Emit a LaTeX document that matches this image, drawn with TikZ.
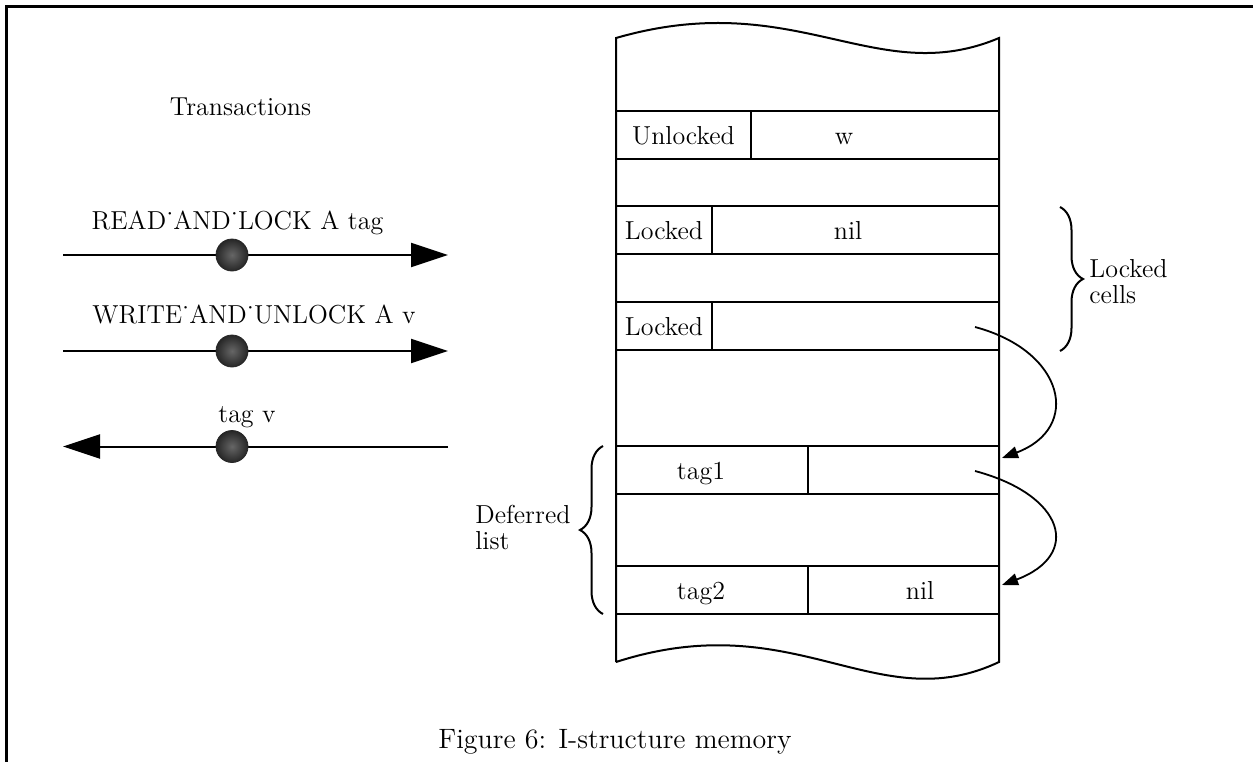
\documentclass[tikz,border=0pt]{standalone}
\usepackage{tikz}
\usetikzlibrary{arrows.meta}
\usetikzlibrary{decorations,decorations.pathreplacing}
\usetikzlibrary{calc}
\tikzstyle{lbl}=[inner sep=0pt, font=\fontsize{13}{13}\selectfont]
\tikzstyle{cell}=[line width=1pt]
\tikzstyle{trans}=[line width=1pt, -{Triangle[length=18.5pt,width=12pt]}]
\tikzstyle{ptr}=[line width=0.9pt, -{Triangle[length=8pt,width=6pt]}]
\tikzstyle{token}=[circle, minimum size=16pt, inner sep=0pt, draw=black!85, shading=radial, inner color=black!60, outer color=black!85]
\tikzstyle{brc}=[line width=1pt, decorate, decoration={brace,amplitude=11.5pt}]
\newcommand{\memRow}[7]{
	\draw[cell] (616,#2) rectangle (999,#2+48);
	\draw[cell] (#3,#2) -- (#3,#2+48);
	\node[lbl, anchor=base] (#1a) at (#4,#2+33) {#5};
	\node[lbl, anchor=base] (#1b) at (#6,#2+33) {#7};
}

\begin{document}
\begin{tikzpicture}[x=0.5pt, y=-0.5pt]
	\useasboundingbox (0,0) rectangle (1253,762);
	\draw[line width=1.5pt] (1253,6.5) -- (6.5,6.5) -- (6.5,762);
	\node[lbl, anchor=base] (title) at (240.5,115) {Transactions};
	\coordinate (t1w) at (63,255);
	\coordinate (t1e) at (448,255);
	\coordinate (t2w) at (63,351);
	\coordinate (t2e) at (448,351);
	\coordinate (t3w) at (63,446.5);
	\coordinate (t3e) at (448,446.5);
	\draw[trans] (t1w) -- (t1e);
	\draw[trans] (t2w) -- (t2e);
	\draw[trans] (t3e) -- (t3w);
	\node[token] (t1b) at (232,255) {};
	\node[token] (t2b) at (232,351) {};
	\node[token] (t3b) at (232,446.5) {};
	\node[lbl, anchor=base] (t1l) at (237.5,229) {READ˙AND˙LOCK A tag};
	\node[lbl, anchor=base] (t2l) at (254,323) {WRITE˙AND˙UNLOCK A v};
	\node[lbl, anchor=base] (t3l) at (247,422) {tag v};
	\draw[cell] (616,662) -- (616,38) .. controls (796,-14) and (876,90) .. (999,38) -- (999,662) .. controls (876,720) and (796,604) .. (616,662);
	\memRow{ul}{111}{751}{683.5}{Unlocked}{844}{w}
	\memRow{lka}{206}{712}{664}{Locked}{848}{nil}
	\memRow{lkb}{302}{712}{664}{Locked}{848}{}
	\memRow{tga}{446}{808}{701}{tag1}{900}{}
	\memRow{tgb}{566}{808}{701}{tag2}{920}{nil}
	\coordinate (lkbp) at (975,327);
	\coordinate (tgain) at (1002,458);
	\coordinate (tgap) at (975,471);
	\coordinate (tgbin) at (1002,585);
	\draw[ptr] (lkbp) .. controls +(90,24) and +(80,-30) .. (tgain);
	\draw[ptr] (tgap) .. controls +(90,24) and +(80,-30) .. (tgbin);
	\coordinate (lcTop) at (1060,207);
	\coordinate (lcBot) at (1060,351);
	\draw[brc] (lcTop) -- (lcBot);
	\node[lbl, anchor=west, align=left] (lcText) at (1089,282) {Locked\\cells};
	\coordinate (dlTop) at (603,446);
	\coordinate (dlBot) at (603,614);
	\draw[brc] (dlBot) -- (dlTop);
	\node[lbl, anchor=west, align=left] (dlText) at (475,527) {Deferred\\list};
	\node[anchor=base west, inner sep=0pt, font=\fontsize{14}{14}\selectfont] (caption) at (438,748) {Figure 6: I-structure memory};
\end{tikzpicture}
\end{document}
